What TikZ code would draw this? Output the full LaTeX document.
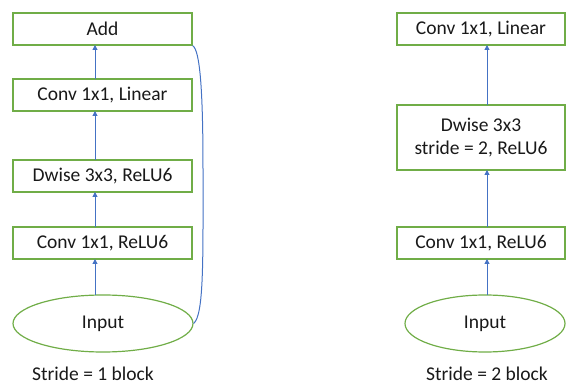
\documentclass[tikz,border=0pt]{standalone}
\usepackage{fontspec}
\setmainfont{Carlito}
\usetikzlibrary{shapes.geometric,arrows.meta}
\definecolor{boxgreen}{RGB}{112,173,71}
\definecolor{arrblue}{RGB}{68,114,196}
\begin{document}
\begin{tikzpicture}[x=1pt,y=-1pt,
  blk/.style={draw=boxgreen,line width=1.2pt,fill=white,inner sep=0pt,font=\fontsize{19.5}{23}\selectfont,text=black!90,align=center},
  inp/.style={ellipse,draw=boxgreen,line width=1.2pt,inner sep=0pt,font=\fontsize{19.5}{23}\selectfont,text=black!90},
  arr/.style={draw=arrblue,line width=1pt,-{Triangle[length=5pt,width=5pt]}},
  captxt/.style={inner sep=0pt,font=\fontsize{19.5}{23}\selectfont,text=black!90}]
\useasboundingbox (0,0) rectangle (566,385);
% left column
\node[blk,minimum width=179pt,minimum height=32pt] (add) at (102.5,29) {Add};
\node[blk,minimum width=179pt,minimum height=32pt] (lin1) at (102.5,95) {Conv 1x1, Linear};
\node[blk,minimum width=179pt,minimum height=32pt] (dw1) at (102.5,176) {Dwise 3x3, ReLU6};
\node[blk,minimum width=179pt,minimum height=32pt] (ex1) at (102.5,243) {Conv 1x1, ReLU6};
\node[inp,minimum width=180pt,minimum height=57pt] (in1) at (103,323.5) {Input};
\node[captxt] (c1) at (93,374) {Stride = 1 block};
\draw[arr] (95,295) -- (95,259);
\draw[arr] (95,227) -- (95,192);
\draw[arr] (95,160) -- (95,111);
\draw[arr] (95,79) -- (95,45);
\draw[arrblue,line width=1pt] (add.south east) .. controls (200,50) and (203,90) .. (203,170)
  .. controls (203,260) and (204,315) .. (in1.east);
% right column
\node[blk,minimum width=168pt,minimum height=32pt] (lin2) at (481,29) {Conv 1x1, Linear};
\node[blk,minimum width=168pt,minimum height=65pt] (dw2) at (481,137.5) {Dwise 3x3\\stride = 2, ReLU6};
\node[blk,minimum width=168pt,minimum height=32pt] (ex2) at (481,243) {Conv 1x1, ReLU6};
\node[inp,minimum width=160pt,minimum height=57pt] (in2) at (485,323.5) {Input};
\node[captxt] (c2) at (487,374) {Stride = 2 block};
\draw[arr] (487,295) -- (487,259);
\draw[arr] (487,227) -- (487,170);
\draw[arr] (487,105) -- (487,45);
\end{tikzpicture}
\end{document}
